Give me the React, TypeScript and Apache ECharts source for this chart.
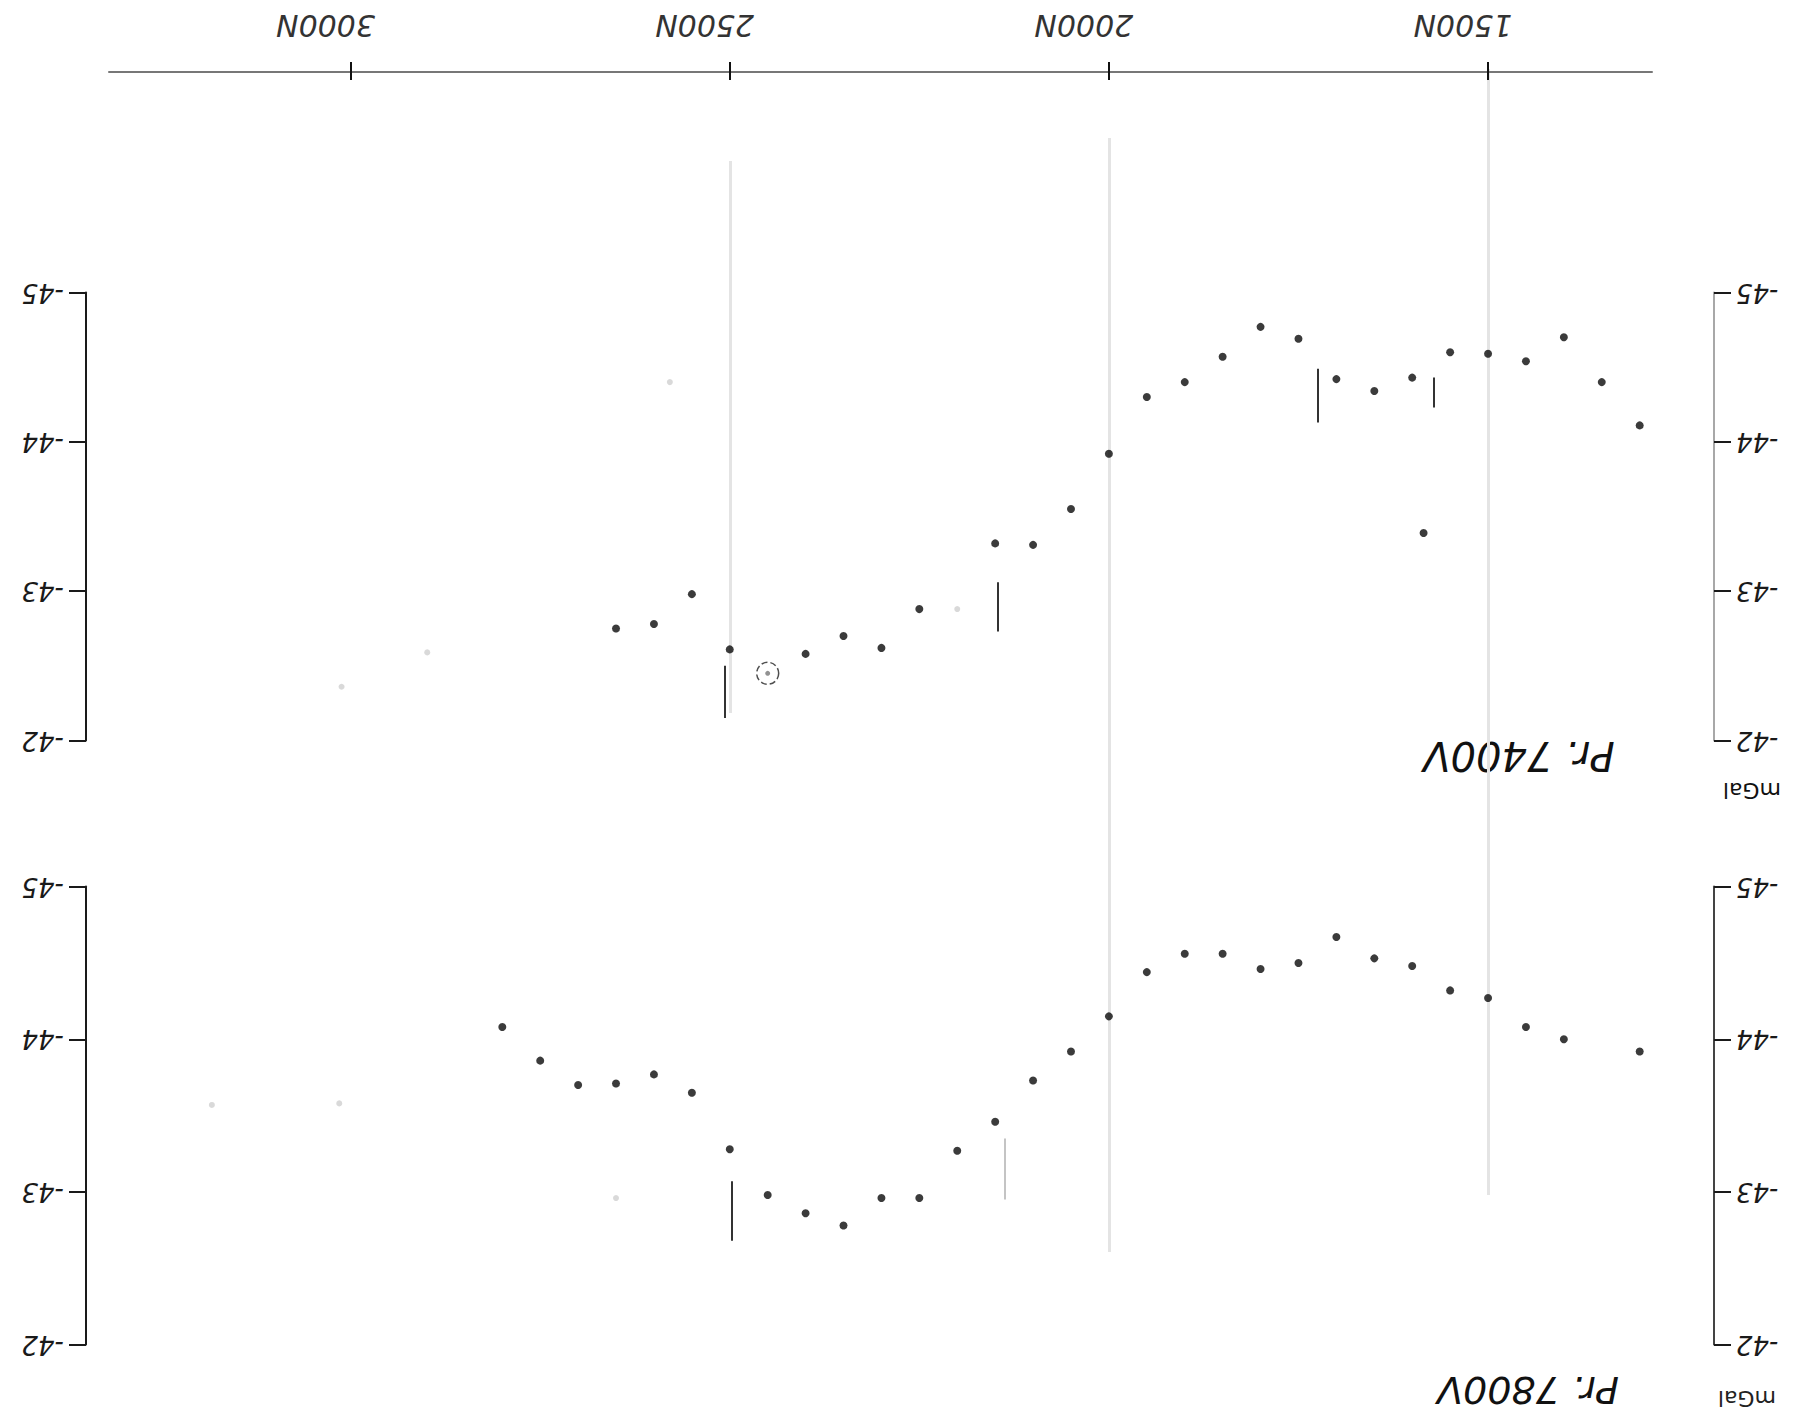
import React, { useEffect, useRef } from "react";
import * as echarts from "echarts";

// ---- data (read from the scanned profile sheet, which is drawn upside down) ----
const topTicks = [1500, 2000, 2500, 3000];
const topTickLabels = ["1500N", "2000N", "2500N", "3000N"];
const gravTicks = [-45, -44, -43, -42];

// Profile 7400V – stations (N) and Bouguer values (mGal)
const p1Stations = [2650, 2600, 2550, 2500, 2400, 2350, 2300, 2250, 2150, 2100, 2050, 2000, 1950, 1900, 1850, 1800, 1750, 1700, 1650, 1600, 1550, 1500, 1450, 1400, 1350, 1300, 1585];
const p1Values = [-42.75, -42.78, -42.98, -42.61, -42.58, -42.70, -42.62, -42.88, -43.32, -43.31, -43.55, -43.92, -44.30, -44.40, -44.57, -44.77, -44.69, -44.42, -44.34, -44.43, -44.60, -44.59, -44.54, -44.70, -44.40, -44.11, -43.39];
const p1CircledStation = [2450];
const p1CircledValue = [-42.45];
const p1FaintStations = [3012, 2899, 2579, 2200];
const p1FaintValues = [-42.36, -42.59, -44.40, -42.88];
const p1MarkStations = [2507, 2146, 1724, 1571];
const p1MarkTop = [-42.50, -43.06, -44.49, -44.43];
const p1MarkBottom = [-42.15, -42.73, -44.13, -44.23];

// Profile 7800V
const p2Stations = [2800, 2750, 2700, 2650, 2600, 2550, 2500, 2450, 2400, 2350, 2300, 2250, 2200, 2150, 2100, 2050, 2000, 1950, 1900, 1850, 1800, 1750, 1700, 1650, 1600, 1550, 1500, 1450, 1400, 1300];
const p2Values = [-44.08, -43.86, -43.70, -43.71, -43.77, -43.65, -43.28, -42.98, -42.86, -42.78, -42.96, -42.96, -43.27, -43.46, -43.73, -43.92, -44.15, -44.44, -44.56, -44.56, -44.46, -44.50, -44.67, -44.53, -44.48, -44.32, -44.27, -44.08, -44.00, -43.92];
const p2FaintStations = [3183, 3015, 2650];
const p2FaintValues = [-43.57, -43.58, -42.96];
const p2MarkStations = [2498, 2138];
const p2MarkTop = [-43.07, -43.35];
const p2MarkBottom = [-42.68, -42.95];

// paper fold lines (station, page-y top, page-y bottom)
const foldStations = [2500, 2000, 1500];
const foldTop = [161, 138, 69];
const foldBottom = [713, 1252, 1195];

const FONT = "DejaVu Sans";

export default function App() {
  const ref = useRef<HTMLDivElement>(null);

  useEffect(() => {
    document.body.style.margin = "0";
    if (!ref.current) return;
    const chart = echarts.init(ref.current, undefined, { renderer: "svg" });

    const xMin = 1202;
    const xMax = 3349;
    const hiddenX = (gridIndex: number) => ({
      gridIndex, type: "value", min: xMin, max: xMax, inverse: true, show: false,
    });

    const yLabel = {
      rotate: 180, margin: 22, fontSize: 26, fontStyle: "italic", fontFamily: FONT,
      fontWeight: 300, color: "#1a1a1a",
      formatter: (v: number) => String(v),
      customValues: gravTicks,
    };
    const gravAxis = (gridIndex: number, position: string, color: string) => ({
      gridIndex, type: "value", min: -45, max: -42, interval: 1, inverse: true, position,
      axisLine: { show: true, lineStyle: { color, width: 2 } },
      axisTick: { show: true, length: 17, lineStyle: { color: "#1a1a1a", width: 2 } },
      axisLabel: yLabel,
      splitLine: { show: false },
    });

    const dots = (st: number[], vals: number[]) => st.map((s, i) => [s, vals[i]]);
    const marks = (st: number[], top: number[], bot: number[]) =>
      st.map((s, i) => ({ coords: [[s, top[i]], [s, bot[i]]] }));

    const option: any = {
      animation: false,
      backgroundColor: "#ffffff",
      grid: [
        { left: 109, right: 150, top: 71, height: 1 },
        { left: 86, right: 88, top: 292.5, height: 448 },
        { left: 86, right: 88, top: 886.6, height: 458 },
        { left: 86, right: 88, top: 0, height: 1416 },
      ],
      xAxis: [
        {
          gridIndex: 0, type: "value", min: 1283.7, max: 3318.5, inverse: true, position: "top",
          axisLine: { show: true, lineStyle: { color: "#777", width: 2 } },
          axisTick: { show: true, customValues: topTicks, length: 10, lineStyle: { color: "#111", width: 2 } },
          axisLabel: {
            customValues: topTicks,
            formatter: (v: number) => topTickLabels[topTicks.indexOf(v)] ?? "",
            rotate: 180, margin: 31, fontSize: 30, fontStyle: "italic", fontFamily: FONT,
            fontWeight: 300, color: "#333", padding: [0, 0, 0, 50],
          },
          splitLine: { show: false },
        },
        {
          gridIndex: 0, type: "value", min: 1283.7, max: 3318.5, inverse: true, position: "bottom",
          axisLine: { show: false },
          axisTick: { show: true, customValues: topTicks, length: 8, lineStyle: { color: "#111", width: 2 } },
          axisLabel: { show: false },
          splitLine: { show: false },
        },
        hiddenX(1),
        hiddenX(2),
        hiddenX(3),
      ],
      yAxis: [
        { gridIndex: 0, type: "value", min: 0, max: 1, show: false },
        gravAxis(1, "left", "#1a1a1a"),
        gravAxis(1, "right", "#a8a8a8"),
        gravAxis(2, "left", "#1a1a1a"),
        gravAxis(2, "right", "#444"),
        { gridIndex: 3, type: "value", min: 0, max: 1416, inverse: true, show: false },
      ],
      series: [
        {
          type: "lines", coordinateSystem: "cartesian2d", xAxisIndex: 4, yAxisIndex: 5, z: 0,
          data: foldStations.map((s, i) => ({ coords: [[s, foldTop[i]], [s, foldBottom[i]]] })),
          lineStyle: { color: "#e4e4e4", width: 3, opacity: 1 },
        },
        // profile 7400V
        {
          type: "scatter", xAxisIndex: 2, yAxisIndex: 1, symbol: "circle", symbolSize: 8,
          itemStyle: { color: "#0a0a0a" }, data: dots(p1Stations, p1Values),
        },
        {
          type: "scatter", xAxisIndex: 2, yAxisIndex: 1, symbol: "circle", symbolSize: 6,
          itemStyle: { color: "#d0d0d0" }, data: dots(p1FaintStations, p1FaintValues),
        },
        {
          type: "scatter", xAxisIndex: 2, yAxisIndex: 1, symbol: "circle", symbolSize: 22,
          itemStyle: { color: "transparent", borderColor: "#222", borderWidth: 1.5, borderType: "dashed" },
          data: dots(p1CircledStation, p1CircledValue),
        },
        {
          type: "scatter", xAxisIndex: 2, yAxisIndex: 1, symbol: "circle", symbolSize: 5,
          itemStyle: { color: "#777" }, data: dots(p1CircledStation, p1CircledValue),
        },
        {
          type: "lines", coordinateSystem: "cartesian2d", xAxisIndex: 2, yAxisIndex: 1,
          data: marks(p1MarkStations, p1MarkTop, p1MarkBottom),
          lineStyle: { color: "#333", width: 2, opacity: 1 },
        },
        // profile 7800V
        {
          type: "scatter", xAxisIndex: 3, yAxisIndex: 3, symbol: "circle", symbolSize: 8,
          itemStyle: { color: "#0a0a0a" }, data: dots(p2Stations, p2Values),
        },
        {
          type: "scatter", xAxisIndex: 3, yAxisIndex: 3, symbol: "circle", symbolSize: 6,
          itemStyle: { color: "#d0d0d0" }, data: dots(p2FaintStations, p2FaintValues),
        },
        {
          type: "lines", coordinateSystem: "cartesian2d", xAxisIndex: 3, yAxisIndex: 3,
          data: marks(p2MarkStations, p2MarkTop, p2MarkBottom).map((d, i) => ({
            ...d, lineStyle: { color: i === 0 ? "#333" : "#c4c4c4", width: 2 },
          })),
          lineStyle: { color: "#333", width: 2, opacity: 1 },
        },
      ],
      graphic: [
        {
          type: "text", x: 1519, y: 756, rotation: Math.PI,
          style: { text: "Pr. 7400V", fontSize: 40, fontStyle: "italic", fontFamily: FONT, fontWeight: 300, fill: "#111", align: "center", verticalAlign: "middle" },
        },
        {
          type: "text", x: 1528, y: 1390, rotation: Math.PI,
          style: { text: "Pr. 7800V", fontSize: 38, fontStyle: "italic", fontFamily: FONT, fontWeight: 300, fill: "#111", align: "center", verticalAlign: "middle" },
        },
        {
          type: "text", x: 1752, y: 790, rotation: Math.PI,
          style: { text: "mGal", fontSize: 22, fontFamily: FONT, fill: "#111", align: "center", verticalAlign: "middle" },
        },
        {
          type: "text", x: 1747, y: 1398, rotation: Math.PI,
          style: { text: "mGal", fontSize: 22, fontFamily: FONT, fill: "#222", align: "center", verticalAlign: "middle" },
        },
      ],
    };

    chart.setOption(option);
    return () => chart.dispose();
  }, []);

  return <div ref={ref} style={{ width: 1802, height: 1416 }} />;
}
